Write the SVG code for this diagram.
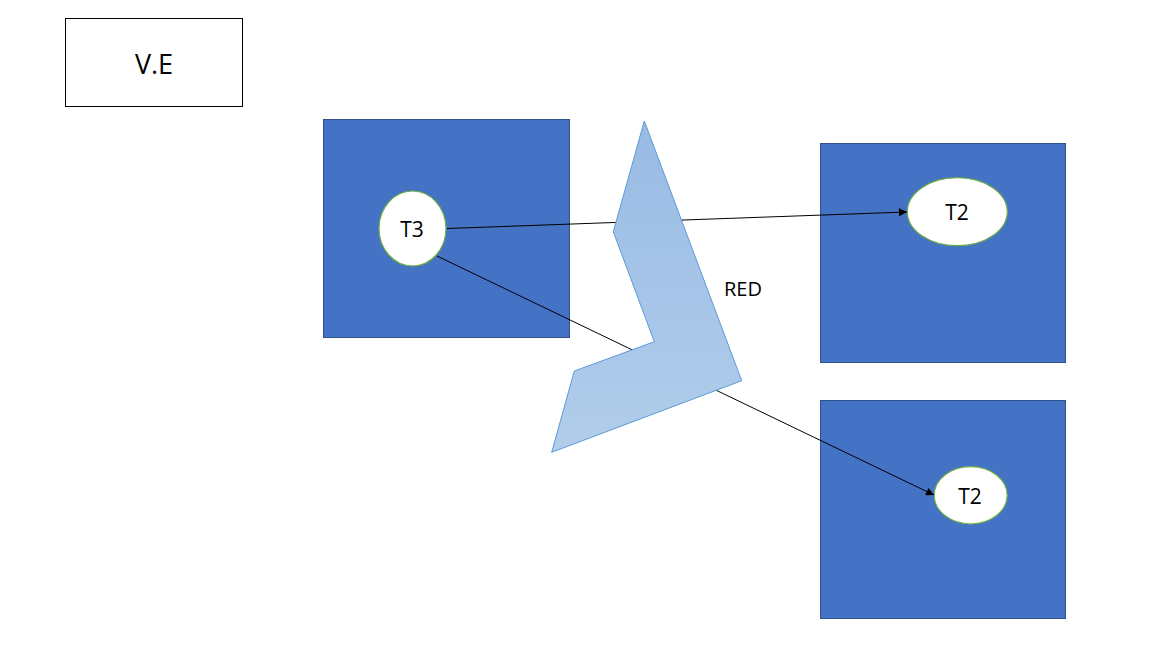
<svg xmlns="http://www.w3.org/2000/svg" width="1153" height="667" viewBox="0 0 1153 667">
<style>
.box{fill:#4472C4;stroke:#2F528F;stroke-width:1}
.node{fill:#fff;stroke:#70AD47;stroke-width:1.2}
.t{font-family:"Open Sans","Liberation Sans",sans-serif;fill:#000;text-anchor:middle;dominant-baseline:central}
.conn{stroke:#000;stroke-width:1;fill:none}
</style>
<defs>
<marker id="arr" viewBox="0 0 10 10" refX="10" refY="5" markerWidth="10" markerHeight="8" markerUnits="userSpaceOnUse" orient="auto"><path d="M0,0L10,5L0,10z" fill="#000"/></marker>
<linearGradient id="g" x1="0" y1="0" x2="0" y2="1"><stop offset="0" stop-color="#98BBE4"/><stop offset="1" stop-color="#B2CDEB"/></linearGradient>
</defs>
<rect width="1153" height="667" fill="#fff"/>
<g id="ve"><rect x="65.5" y="18.5" width="177" height="88" fill="#fff" stroke="#000"/><text class="t" x="154" y="63" font-size="27">V.E</text></g>
<g id="box1"><rect class="box" x="323.5" y="119.5" width="246" height="218"/></g>
<g id="box2"><rect class="box" x="820.5" y="143.5" width="245" height="219"/></g>
<g id="box3"><rect class="box" x="820.5" y="400.5" width="245" height="218"/></g>
<g id="t3"><ellipse class="node" cx="412.5" cy="228.5" rx="33.5" ry="37.5"/><text class="t" x="412" y="229" font-size="21">T3</text></g>
<g id="t2a"><ellipse class="node" cx="957.3" cy="211.7" rx="50" ry="34"/><text class="t" x="957" y="212" font-size="21">T2</text></g>
<g id="t2b"><ellipse class="node" cx="970.7" cy="495.3" rx="36.5" ry="28.7"/><text class="t" x="970" y="496" font-size="21">T2</text></g>
<g id="connectors">
<line class="conn" x1="447" y1="228.5" x2="907" y2="212" marker-end="url(#arr)"/>
<line class="conn" x1="437" y1="256" x2="934" y2="495" marker-end="url(#arr)"/>
</g>
<g id="red"><polygon points="644.3,121 741.7,380.7 551.7,452.3 574.3,371 654.3,341.7 613.3,231.7" fill="url(#g)" stroke="#5B9BD5" stroke-width="1"/></g>
<text class="t" x="743" y="288" font-size="20">RED</text>
</svg>
